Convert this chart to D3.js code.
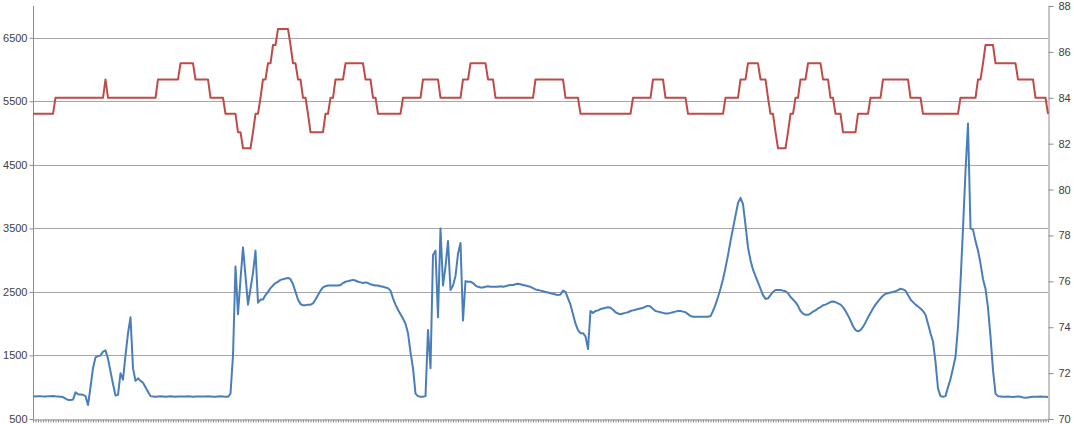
<!DOCTYPE html>
<html>
<head>
<meta charset="utf-8">
<script src="https://cdn.jsdelivr.net/npm/d3@7"></script>
<style>
  html, body { margin: 0; padding: 0; background: #fff; }
  svg { display: block; font-family: "Open Sans", "Liberation Sans", sans-serif; }
  .axis text { font-size: 11px; fill: #404040; }
  .axis path, .axis line { stroke: #8c8c8c; }
</style>
</head>
<body>
<svg id="chart"></svg>
<script>
// Blue series (left axis), one value per category
const flowValues = [
  860, 855, 858, 860, 856, 855, 860, 858, 862, 858, 855, 850, 845,
  820, 800, 800, 805,
  920, 890, 885, 880, 860,
  720, 1000, 1300, 1470, 1490, 1500, 1560, 1580,
  1450, 1250, 1050, 870, 880, 1220, 1120, 1500, 1850, 2100,
  1300, 1100, 1140, 1100, 1070, 1000, 930, 860,
  855, 850, 855, 858, 855, 852, 855, 857, 855, 850,
  855, 856, 854, 855, 858, 855, 852, 855, 856, 855,
  853, 855, 857, 855, 850, 852, 855, 858, 855, 852, 850,
  900, 1500, 2900, 2150, 2700, 3200, 2750, 2300, 2550, 2800, 3150, 2330,
  2380, 2380, 2450, 2500, 2560, 2600, 2640, 2660, 2690, 2700,
  2710, 2720, 2700, 2620, 2500, 2380, 2310, 2290, 2290, 2300,
  2300, 2320, 2380, 2450, 2520, 2570, 2590, 2600, 2600,
  2600, 2600, 2600, 2610, 2640, 2660, 2670, 2680, 2690, 2680,
  2660, 2650, 2640, 2650, 2640, 2620, 2610, 2600, 2600, 2590,
  2580, 2570, 2560, 2520, 2400, 2300, 2220, 2150, 2080, 2000,
  1850, 1550, 1300, 900, 860, 850, 850, 860, 1900, 1300,
  3080, 3150, 2100, 3500, 2600, 2900, 3300, 2530, 2600, 2750,
  3100, 3270, 2050, 2670, 2660, 2660, 2640, 2600, 2580, 2570,
  2570, 2580, 2590, 2580, 2580, 2580, 2580, 2590, 2580, 2590,
  2600, 2610, 2610, 2620, 2630, 2620, 2610, 2600, 2590, 2580,
  2560, 2540, 2530, 2520, 2510, 2500, 2490, 2480, 2470, 2460,
  2450, 2460, 2520, 2500, 2400, 2300, 2150, 2000, 1900, 1850,
  1850, 1800, 1600, 2200, 2170, 2200, 2210, 2230, 2240, 2250,
  2260, 2250, 2220, 2180, 2160, 2150, 2160, 2170, 2180, 2200,
  2210, 2220, 2230, 2240, 2250, 2270, 2280, 2270, 2230, 2200,
  2190, 2180, 2170, 2160, 2160, 2170, 2180, 2190, 2200, 2200,
  2190, 2180, 2150, 2120, 2110, 2110, 2110, 2110, 2110, 2110,
  2110, 2120, 2200, 2300, 2420, 2550, 2700, 2880, 3080, 3300,
  3500, 3700, 3900, 3980, 3880, 3550, 3200, 3000, 2850, 2750,
  2650, 2550, 2450, 2390, 2400, 2450, 2500, 2530, 2530, 2530,
  2520, 2510, 2480, 2420, 2380, 2340, 2280, 2200, 2160, 2140,
  2140, 2160, 2190, 2210, 2240, 2260, 2290, 2300, 2320, 2340,
  2350, 2340, 2320, 2300, 2260, 2200, 2130, 2050, 1960, 1900,
  1880, 1900, 1950, 2020, 2100, 2170, 2240, 2300, 2350, 2400,
  2440, 2470, 2480, 2490, 2500, 2510, 2530, 2550, 2540, 2520,
  2450, 2380, 2340, 2300, 2270, 2240, 2200, 2140, 2000, 1850,
  1720, 1400, 980, 860, 850, 860, 1000, 1130, 1300, 1480,
  1950, 2650, 3500, 4400, 5150, 3500, 3480, 3300, 3150, 2950,
  2700, 2550, 2250, 1800, 1270, 900, 860, 855, 850, 852,
  855, 850, 848, 852, 855, 850, 840, 835, 840, 845,
  850, 852, 850, 855, 852, 850, 848
];

// Red series (right axis), one value per category
const tempValues = [
  83.3, 83.3, 83.3, 83.3, 83.3, 83.3, 83.3, 83.3, 83.3,
  84.0, 84.0, 84.0, 84.0, 84.0, 84.0, 84.0, 84.0, 84.0, 84.0,
  84.0, 84.0, 84.0, 84.0, 84.0, 84.0, 84.0, 84.0, 84.0, 84.0,
  84.8,
  84.0, 84.0, 84.0, 84.0, 84.0, 84.0, 84.0, 84.0, 84.0, 84.0,
  84.0, 84.0, 84.0, 84.0, 84.0, 84.0, 84.0, 84.0, 84.0, 84.0,
  84.8, 84.8, 84.8, 84.8, 84.8, 84.8, 84.8, 84.8, 84.8,
  85.5, 85.5, 85.5, 85.5, 85.5, 85.5,
  84.8, 84.8, 84.8, 84.8, 84.8, 84.8,
  84.0, 84.0, 84.0, 84.0, 84.0, 84.0,
  83.3, 83.3, 83.3, 83.3, 83.3,
  82.5, 82.5,
  81.8, 81.8, 81.8, 81.8,
  82.5,
  83.3, 83.3,
  84.0,
  84.8, 84.8,
  85.5, 85.5,
  86.3, 86.3,
  87.0, 87.0, 87.0, 87.0, 87.0,
  86.3,
  85.5, 85.5,
  84.8, 84.8,
  84.0, 84.0,
  83.3,
  82.5, 82.5, 82.5, 82.5, 82.5, 82.5,
  83.3, 83.3,
  84.0, 84.0,
  84.8, 84.8, 84.8, 84.8,
  85.5, 85.5, 85.5, 85.5, 85.5, 85.5, 85.5, 85.5,
  84.8, 84.8, 84.8,
  84.0, 84.0,
  83.3, 83.3, 83.3, 83.3, 83.3, 83.3, 83.3, 83.3, 83.3, 83.3,
  84.0, 84.0, 84.0, 84.0, 84.0, 84.0, 84.0, 84.0,
  84.8, 84.8, 84.8, 84.8, 84.8, 84.8, 84.8,
  84.0, 84.0, 84.0, 84.0, 84.0, 84.0, 84.0, 84.0, 84.0,
  84.8, 84.8, 84.8,
  85.5, 85.5, 85.5, 85.5, 85.5, 85.5, 85.5,
  84.8, 84.8, 84.8,
  84.0, 84.0, 84.0, 84.0, 84.0, 84.0, 84.0, 84.0,
  84.0, 84.0, 84.0, 84.0, 84.0, 84.0, 84.0, 84.0,
  84.8, 84.8, 84.8, 84.8, 84.8, 84.8, 84.8, 84.8, 84.8, 84.8, 84.8, 84.8,
  84.0, 84.0, 84.0, 84.0, 84.0, 84.0,
  83.3, 83.3, 83.3, 83.3, 83.3, 83.3, 83.3, 83.3, 83.3, 83.3,
  83.3, 83.3, 83.3, 83.3, 83.3, 83.3, 83.3, 83.3, 83.3, 83.3, 83.3,
  84.0, 84.0, 84.0, 84.0, 84.0, 84.0, 84.0, 84.0,
  84.8, 84.8, 84.8, 84.8, 84.8,
  84.0, 84.0, 84.0, 84.0, 84.0, 84.0, 84.0, 84.0, 84.0,
  83.3, 83.3, 83.3, 83.3, 83.3, 83.3, 83.3, 83.3, 83.3, 83.3,
  83.3, 83.3, 83.3, 83.3, 83.3,
  84.0, 84.0, 84.0, 84.0, 84.0, 84.0,
  84.8, 84.8, 84.8,
  85.5, 85.5, 85.5, 85.5, 85.5,
  84.8, 84.8, 84.8,
  84.0,
  83.3, 83.3,
  82.5,
  81.8, 81.8, 81.8, 81.8,
  82.5,
  83.3, 83.3,
  84.0, 84.0,
  84.8, 84.8, 84.8,
  85.5, 85.5, 85.5, 85.5, 85.5, 85.5,
  84.8, 84.8, 84.8,
  84.0, 84.0,
  83.3, 83.3, 83.3,
  82.5, 82.5, 82.5, 82.5, 82.5, 82.5,
  83.3, 83.3, 83.3, 83.3, 83.3,
  84.0, 84.0, 84.0, 84.0, 84.0,
  84.8, 84.8, 84.8, 84.8, 84.8, 84.8, 84.8, 84.8, 84.8, 84.8, 84.8,
  84.0, 84.0, 84.0, 84.0, 84.0,
  83.3, 83.3, 83.3, 83.3, 83.3, 83.3, 83.3, 83.3, 83.3, 83.3,
  83.3, 83.3, 83.3, 83.3, 83.3,
  84.0, 84.0, 84.0, 84.0, 84.0, 84.0, 84.0,
  84.8, 84.8,
  85.5,
  86.3, 86.3, 86.3, 86.3,
  85.5, 85.5, 85.5, 85.5, 85.5, 85.5, 85.5, 85.5, 85.5,
  84.8, 84.8, 84.8, 84.8, 84.8, 84.8, 84.8,
  84.0, 84.0, 84.0, 84.0, 84.0,
  83.3
];

// Tick values for both axes
const leftTicks = [500, 1500, 2500, 3500, 4500, 5500, 6500];
const rightTicks = [70, 72, 74, 76, 78, 80, 82, 84, 86, 88];

// layout
const width = 1074;
const height = 424;
const plotLeft = 33;
const plotRight = 1048;
const plotTop = 6;
const plotBottom = 419;
const blueColor = '#4a7ebb';
const redColor = '#be4b48';

const svg = d3.select('#chart')
  .attr('width', width)
  .attr('height', height);

const categories = flowValues.map((d, i) => i);

// Scales
const xScale = d3.scalePoint()
  .domain(categories)
  .range([plotLeft, plotRight]);

const yLeft = d3.scaleLinear()
  .domain([500, 7000])
  .range([plotBottom, plotTop]);

const yRight = d3.scaleLinear()
  .domain([70, 88])
  .range([plotBottom, plotTop]);

// Gridlines at the left major ticks
svg.append('g')
  .selectAll('line')
  .data(leftTicks.filter(d => d > 500))
  .enter()
  .append('line')
  .attr('x1', plotLeft)
  .attr('x2', plotRight)
  .attr('y1', d => Math.round(yLeft(d)) + 0.5)
  .attr('y2', d => Math.round(yLeft(d)) + 0.5)
  .attr('stroke', '#a6a6a6')
  .attr('stroke-width', 1);

// Category ticks along the bottom
const xAxis = d3.axisBottom(xScale)
  .tickSize(3)
  .tickSizeOuter(0)
  .tickFormat('');

svg.append('g')
  .attr('class', 'axis')
  .attr('transform', `translate(0, ${plotBottom + 0.5})`)
  .call(xAxis)
  .call(g => g.selectAll('.tick line').attr('stroke', '#b0b0b0'));

// Left axis (no thousands separator)
const leftAxis = d3.axisLeft(yLeft)
  .tickValues(leftTicks)
  .tickFormat(d3.format('d'))
  .tickSize(4)
  .tickSizeOuter(0)
  .tickPadding(2);

svg.append('g')
  .attr('class', 'axis')
  .attr('transform', `translate(${plotLeft + 0.5}, 0)`)
  .call(leftAxis)
  .call(g => g.select('.domain').attr('d', `M0,${plotTop}V${plotBottom}`));

// Right axis
const rightAxis = d3.axisRight(yRight)
  .tickValues(rightTicks)
  .tickSize(5)
  .tickSizeOuter(0)
  .tickPadding(5);

svg.append('g')
  .attr('class', 'axis')
  .attr('transform', `translate(${plotRight + 0.5}, 0)`)
  .call(rightAxis);

// Lines
const blueLine = d3.line()
  .x((d, i) => xScale(i))
  .y(d => yLeft(d));

const redLine = d3.line()
  .x((d, i) => xScale(i))
  .y(d => yRight(d));

svg.append('path')
  .datum(flowValues)
  .attr('fill', 'none')
  .attr('stroke', blueColor)
  .attr('stroke-width', 2)
  .attr('stroke-linejoin', 'round')
  .attr('d', blueLine);

svg.append('path')
  .datum(tempValues)
  .attr('fill', 'none')
  .attr('stroke', redColor)
  .attr('stroke-width', 2)
  .attr('stroke-linejoin', 'round')
  .attr('d', redLine);
</script>
</body>
</html>
